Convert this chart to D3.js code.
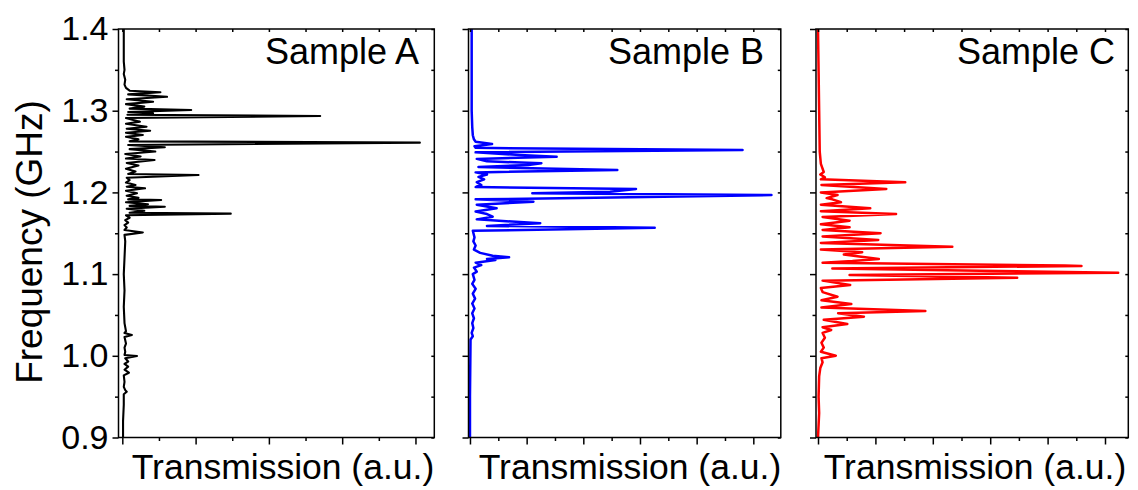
<!DOCTYPE html>
<html>
<head>
<meta charset="utf-8">
<script src="https://cdn.jsdelivr.net/npm/d3@7"></script>
<style>
  html, body { margin: 0; padding: 0; background: #fff; }
  svg { display: block; font-family: "Liberation Sans", Arial, sans-serif; }
</style>
</head>
<body>
<svg id="chart" width="1138" height="490"></svg>
<script>
// ---------------- DATA ----------------
const sampleNames = ["Sample A", "Sample B", "Sample C"];
const yTickValues = [0.9, 1.0, 1.1, 1.2, 1.3, 1.4];
const yTickLabels = ["0.9", "1.0", "1.1", "1.2", "1.3", "1.4"];
const yMinorValues = [0.95, 1.05, 1.15, 1.25, 1.35];
const xAxisTitle = "Transmission (a.u.)";
const yAxisTitle = "Frequency (GHz)";

// [frequency (GHz), transmission (a.u.)]
const specA = [
  [1.400, 0.02], [1.360, 0.02], [1.350, 0.03], [1.345, 0.02], [1.338, 0.04], [1.332, 0.03],
  [1.328, 0.05], [1.3245, 0.10], [1.3225, 0.52], [1.320, 0.08], [1.317, 0.61], [1.314, 0.06],
  [1.311, 0.42], [1.308, 0.05], [1.305, 0.30], [1.3025, 0.10], [1.3009, 0.94], [1.2985, 0.08],
  [1.2968, 0.42], [1.295, 0.07], [1.2935, 2.70], [1.291, 0.05], [1.2885, 0.15], [1.2866, 0.24],
  [1.284, 0.05], [1.2804, 0.33], [1.278, 0.06], [1.2755, 0.38], [1.273, 0.05], [1.2703, 0.28],
  [1.268, 0.05], [1.265, 0.22], [1.2625, 0.10], [1.2609, 4.06], [1.258, 0.08], [1.2552, 0.58],
  [1.253, 0.10], [1.250, 0.45], [1.247, 0.04], [1.244, 0.25], [1.2415, 0.05], [1.2397, 0.44],
  [1.236, 0.06], [1.233, 0.22], [1.229, 0.05], [1.2255, 0.18], [1.2225, 0.08], [1.2213, 1.04],
  [1.218, 0.06], [1.215, 0.10], [1.212, 0.05], [1.209, 0.18], [1.207, 0.06], [1.205, 0.31],
  [1.202, 0.05], [1.199, 0.20], [1.196, 0.06], [1.1935, 0.22], [1.1915, 0.08], [1.1907, 0.53],
  [1.188, 0.05], [1.1855, 0.35], [1.1835, 0.10], [1.1825, 0.58], [1.180, 0.06], [1.1775, 0.30],
  [1.175, 0.10], [1.174, 1.48], [1.172, 0.05], [1.169, 0.10], [1.166, 0.04], [1.163, 0.08],
  [1.160, 0.03], [1.157, 0.06], [1.154, 0.03], [1.151, 0.28], [1.148, 0.03], [1.140, 0.04],
  [1.120, 0.03], [1.100, 0.02], [1.080, 0.03], [1.060, 0.02], [1.040, 0.03], [1.030, 0.05],
  [1.028, 0.03], [1.0255, 0.13], [1.023, 0.03], [1.015, 0.05], [1.010, 0.03], [1.005, 0.04],
  [1.001, 0.03], [0.9998, 0.20], [0.997, 0.04], [0.993, 0.08], [0.990, 0.03], [0.9867, 0.08],
  [0.983, 0.03], [0.9793, 0.09], [0.976, 0.02], [0.968, 0.03], [0.962, 0.02], [0.958, 0.04],
  [0.956, 0.06], [0.953, 0.02], [0.940, 0.02], [0.920, 0.01], [0.900, 0.01]
];

const specB = [
  [1.400, 0.03], [1.300, 0.03], [1.280, 0.04], [1.270, 0.05], [1.265, 0.07], [1.262, 0.10],
  [1.2592, 0.39], [1.2565, 0.08], [1.2545, 0.10], [1.2519, 4.81], [1.249, 0.10], [1.2458, 0.88],
  [1.2437, 1.53], [1.241, 0.12], [1.238, 0.30], [1.2356, 1.26], [1.2335, 1.03], [1.231, 0.15],
  [1.2274, 2.60], [1.2245, 0.10], [1.222, 0.30], [1.219, 0.15], [1.216, 0.25], [1.2125, 0.12],
  [1.209, 0.20], [1.2065, 0.10], [1.2042, 2.93], [1.2009, 2.47], [1.199, 1.10], [1.1968, 5.32],
  [1.194, 2.82], [1.1915, 0.10], [1.1886, 1.12], [1.185, 0.12], [1.1805, 0.47], [1.1765, 0.10],
  [1.1735, 0.30], [1.1703, 0.40], [1.167, 0.12], [1.1622, 1.24], [1.159, 0.30], [1.1568, 3.26],
  [1.153, 0.05], [1.145, 0.08], [1.140, 0.06], [1.135, 0.10], [1.130, 0.07], [1.126, 0.18],
  [1.1225, 0.40], [1.1206, 0.69], [1.1185, 0.30], [1.1173, 0.45], [1.114, 0.10], [1.111, 0.20],
  [1.108, 0.07], [1.103, 0.12], [1.100, 0.05], [1.093, 0.08], [1.088, 0.04], [1.082, 0.10],
  [1.076, 0.05], [1.070, 0.09], [1.064, 0.04], [1.058, 0.08], [1.052, 0.04], [1.046, 0.07],
  [1.040, 0.04], [1.034, 0.06], [1.028, 0.03], [1.024, 0.05], [1.020, 0.01], [0.950, 0.00],
  [0.900, 0.00]
];

const specC = [
  [1.400, 0.00], [1.350, 0.01], [1.300, 0.02], [1.250, 0.03], [1.235, 0.05], [1.225, 0.10],
  [1.222, 0.04], [1.2185, 0.12], [1.216, 0.05], [1.2124, 1.52], [1.209, 0.06], [1.2042, 1.19],
  [1.200, 0.05], [1.1968, 0.34], [1.193, 0.15], [1.1915, 0.25], [1.1879, 0.40], [1.185, 0.05],
  [1.1805, 0.91], [1.177, 0.05], [1.1736, 1.36], [1.170, 0.08], [1.1654, 0.55], [1.161, 0.05],
  [1.1573, 0.55], [1.154, 0.08], [1.150, 1.09], [1.146, 0.08], [1.1417, 1.05], [1.138, 0.05],
  [1.1335, 2.34], [1.130, 0.05], [1.1267, 0.77], [1.124, 0.45], [1.1185, 1.06], [1.116, 0.60],
  [1.114, 0.08], [1.1105, 4.30], [1.1099, 4.59], [1.107, 0.25], [1.1042, 2.82], [1.1017, 5.23],
  [1.099, 0.55], [1.0956, 3.47], [1.092, 0.08], [1.0867, 0.56], [1.083, 0.05], [1.078, 0.08],
  [1.0723, 0.34], [1.068, 0.06], [1.0634, 0.58], [1.059, 0.06], [1.0548, 1.87], [1.052, 0.35],
  [1.0479, 0.80], [1.044, 0.10], [1.0389, 0.51], [1.035, 0.08], [1.0316, 0.23], [1.028, 0.08],
  [1.022, 0.12], [1.016, 0.06], [1.010, 0.10], [1.005, 0.05], [1.0001, 0.31], [0.997, 0.06],
  [0.992, 0.08], [0.985, 0.04], [0.975, 0.02], [0.950, 0.01], [0.930, 0.02], [0.900, 0.00]
];

// ---------------- LAYOUT ----------------
const plotTop = 29, plotBottom = 437.5;
const panels = [
  { name: sampleNames[0], data: specA, color: "#000000", width: 2.1, left: 118.5, right: 434.3, xMin: -0.052, xMax: 4.257, maxMajor: 4, labelEnd: 419, titleX: 283 },
  { name: sampleNames[1], data: specB, color: "#0000ff", width: 2.5, left: 468.5, right: 780.8, xMin: -0.026, xMax: 5.485, maxMajor: 5.5, labelEnd: 764, titleX: 630 },
  { name: sampleNames[2], data: specC, color: "#ff0000", width: 2.5, left: 816.0, right: 1128.3, xMin: -0.035, xMax: 5.406, maxMajor: 5, labelEnd: 1115, titleX: 975 }
];

const svg = d3.select("#chart");
const y = d3.scaleLinear().domain([0.9, 1.4]).range([plotBottom, plotTop]);

panels.forEach((p, i) => {
  const x = d3.scaleLinear().domain([p.xMin, p.xMax]).range([p.left, p.right]);
  const g = svg.append("g");

  const majors = d3.range(0, Math.floor(p.maxMajor) + 0.001, 1);
  const minors = d3.range(0.5, p.xMax + 0.001, 1);

  const clipId = "clip" + i;
  svg.append("clipPath").attr("id", clipId).append("rect")
    .attr("x", p.left).attr("y", plotTop).attr("width", p.right - p.left).attr("height", plotBottom - plotTop);

  // spectrum
  const line = d3.line().x(d => x(d[1])).y(d => y(d[0]));
  g.append("path").datum(p.data)
    .attr("clip-path", `url(#${clipId})`)
    .attr("fill", "none").attr("stroke", p.color)
    .attr("stroke-width", p.width).attr("stroke-linejoin", "round")
    .attr("d", line);

  const styleAxis = sel => {
    sel.select(".domain").remove();
    sel.selectAll(".tick line").attr("stroke", "#000").attr("stroke-width", 1.5);
  };

  // bottom axis (outward)
  g.append("g").attr("transform", `translate(0,${plotBottom})`)
    .call(d3.axisBottom(x).tickValues(majors).tickSize(7).tickFormat("")).call(styleAxis);
  g.append("g").attr("transform", `translate(0,${plotBottom})`)
    .call(d3.axisBottom(x).tickValues(minors).tickSize(3.5).tickFormat("")).call(styleAxis);
  // top axis (inward mirror)
  g.append("g").attr("transform", `translate(0,${plotTop})`)
    .call(d3.axisTop(x).tickValues(majors.concat(minors)).tickSize(-3).tickFormat("")).call(styleAxis);

  // left axis (outward)
  const leftMaj = g.append("g").attr("transform", `translate(${p.left},0)`)
    .call(d3.axisLeft(y).tickValues(yTickValues).tickSize(6).tickPadding(4)
      .tickFormat((d, k) => i === 0 ? yTickLabels[k] : ""))
    .call(styleAxis);
  leftMaj.selectAll("text").attr("font-size", 34).attr("fill", "#000")
    .attr("font-family", "'Liberation Sans', Arial, sans-serif");
  g.append("g").attr("transform", `translate(${p.left},0)`)
    .call(d3.axisLeft(y).tickValues(yMinorValues).tickSize(3.5).tickFormat("")).call(styleAxis);
  // right axis (inward mirror)
  g.append("g").attr("transform", `translate(${p.right},0)`)
    .call(d3.axisRight(y).tickValues(yTickValues.concat(yMinorValues)).tickSize(-3).tickFormat("")).call(styleAxis);

  // frame
  g.append("rect")
    .attr("x", p.left).attr("y", plotTop)
    .attr("width", p.right - p.left).attr("height", plotBottom - plotTop)
    .attr("fill", "none").attr("stroke", "#000").attr("stroke-width", 1.5);

  // sample label
  g.append("text").attr("x", p.labelEnd).attr("y", 64)
    .attr("text-anchor", "end").attr("font-size", 36).attr("fill", "#000")
    .text(p.name);

  // x title
  g.append("text").attr("x", p.titleX).attr("y", 479)
    .attr("text-anchor", "middle").attr("font-size", 35.5).attr("fill", "#000")
    .text(xAxisTitle);
});

// y title
svg.append("text")
  .attr("transform", "translate(42,242) rotate(-90)")
  .attr("text-anchor", "middle").attr("font-size", 37).attr("fill", "#000")
  .text(yAxisTitle);
</script>
</body>
</html>
